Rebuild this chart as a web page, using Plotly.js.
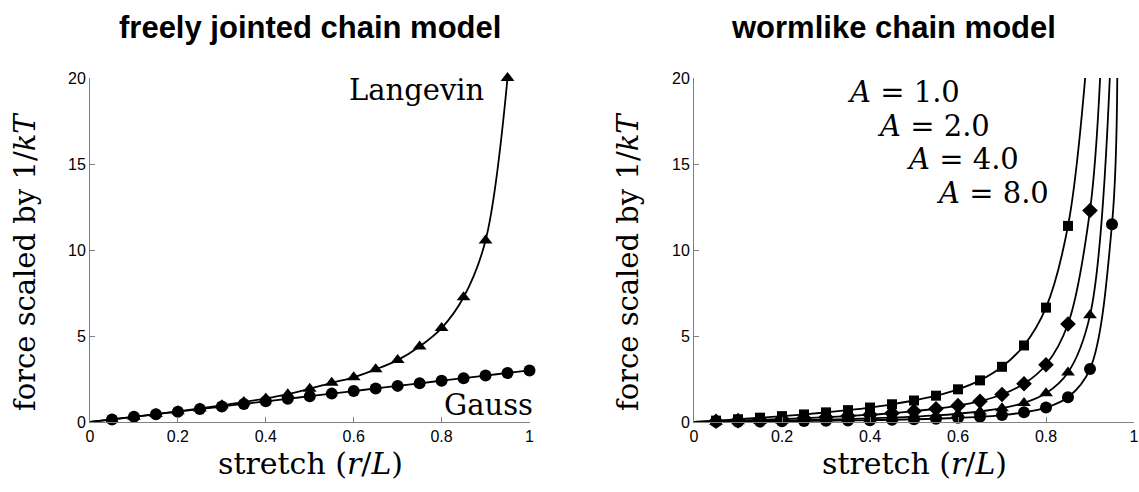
<!DOCTYPE html>
<html>
<head>
<meta charset="utf-8">
<script src="https://cdn.plot.ly/plotly-3.0.1.min.js"></script>
<style>html,body{margin:0;padding:0;background:#fff;}#chart{width:1139px;height:492px;}</style>
</head>
<body>
<div id="chart"></div>
<script>
// ---- data ----
const stretchJ = [0.05,0.10,0.15,0.20,0.25,0.30,0.35,0.40,0.45,0.50,0.55,0.60,0.65,0.70,0.75,0.80,0.85,0.90,0.95];
const langevin = [0.15,0.30,0.46,0.62,0.79,0.97,1.16,1.37,1.62,1.93,2.28,2.60,3.06,3.60,4.39,5.46,7.25,10.55,20.0];
const stretchG = [0.05,0.10,0.15,0.20,0.25,0.30,0.35,0.40,0.45,0.50,0.55,0.60,0.65,0.70,0.75,0.80,0.85,0.90,0.95,1.00];
const gauss    = [0.15,0.30,0.45,0.60,0.75,0.90,1.05,1.20,1.35,1.50,1.65,1.80,1.95,2.10,2.25,2.40,2.55,2.70,2.85,3.00];

const stretchW = [0.05,0.10,0.15,0.20,0.25,0.30,0.35,0.40,0.45,0.50,0.55,0.60,0.65,0.70,0.75,0.80,0.85,0.90,0.95];
const wlcA1 = [0.08,0.16,0.25,0.34,0.44,0.56,0.69,0.84,1.03,1.25,1.53,1.90,2.42,3.21,4.45,6.65,11.4];
const wlcA2 = [0.04,0.08,0.12,0.17,0.22,0.28,0.35,0.42,0.51,0.63,0.77,0.95,1.21,1.60,2.22,3.33,5.70,12.3];
const wlcA4 = [0.02,0.04,0.06,0.085,0.11,0.14,0.17,0.21,0.26,0.31,0.38,0.48,0.61,0.80,1.11,1.67,2.88,6.20];
const wlcA8 = [0.01,0.02,0.03,0.04,0.055,0.07,0.09,0.105,0.13,0.16,0.19,0.24,0.30,0.40,0.56,0.84,1.44,3.08,11.5];
// where each wormlike curve leaves the top of the axes (force = 20)
const wlcTopX = [0.889,0.923,0.945,0.962];
const wlcLabels = ['<i>A</i> = 1.0','<i>A</i> = 2.0','<i>A</i> = 4.0','<i>A</i> = 8.0'];
const wlcSymbols = ['square','diamond','triangle-up','circle'];

const xTicks = [0,0.2,0.4,0.6,0.8,1];
const xTickText = ['0','0.2','0.4','0.6','0.8','1'];
const yTicks = [0,5,10,15,20];
const yTickText = ['0','5','10','15','20'];

// ---- layout helpers ----
const W = 1139, H = 492;
const px = v => v / W;
const py = v => 1 - v / H;
const serif = 'DejaVu Serif';
const lineStyle = {color:'#000', width:1.8, shape:'spline', smoothing:1};
const markerSize = {'triangle-up':12,'circle':12,'square':10,'diamond':12};

const traces = [];
function addCurve(x, y, xa, ya, symbol, lineX, lineY){
  traces.push({x: lineX, y: lineY, xaxis: xa, yaxis: ya, mode:'lines', line: lineStyle, hoverinfo:'skip', showlegend:false});
  traces.push({x: x, y: y, xaxis: xa, yaxis: ya, mode:'markers', cliponaxis:false,
    marker:{symbol: symbol, size: markerSize[symbol], color:'#000'}, showlegend:false});
}
addCurve(stretchJ, langevin, 'x', 'y', 'triangle-up', [0].concat(stretchJ), [0].concat(langevin));
addCurve(stretchG, gauss, 'x', 'y', 'circle', [0].concat(stretchG), [0].concat(gauss));

const wlc = [wlcA1, wlcA2, wlcA4, wlcA8];
wlc.forEach((vals, i) => {
  const xs = stretchW.slice(0, vals.length);
  addCurve(xs, vals, 'x2', 'y2', wlcSymbols[i],
    [0].concat(xs, [wlcTopX[i]]), [0].concat(vals, [20]));
});

function xAxis(domain){
  return {domain: domain, range:[0,1], tickvals:xTicks, ticktext:xTickText, showline:true,
    linecolor:'#808080', linewidth:1, ticks:'inside', ticklen:5, tickcolor:'#808080',
    showgrid:false, zeroline:false, fixedrange:true,
    tickfont:{family:'Liberation Sans', size:16, color:'#000'}};
}
function yAxis(anchor){
  return {domain:[py(422), py(78)], range:[0,20], tickvals:yTicks, ticktext:yTickText, showline:true,
    linecolor:'#808080', linewidth:1, ticks:'inside', ticklen:5, tickcolor:'#808080',
    showgrid:false, zeroline:false, fixedrange:true, anchor: anchor,
    tickfont:{family:'Liberation Sans', size:16, color:'#000'}};
}

const ann = [];
function text(t, x, y, opts){
  ann.push(Object.assign({text:t, xref:'paper', yref:'paper', x:px(x), y:py(y), showarrow:false,
    xanchor:'center', yanchor:'middle', font:{family:serif, size:29, color:'#000'}}, opts||{}));
}
text('<b>freely jointed chain model</b>', 310, 27, {font:{family:'Liberation Sans', size:31, color:'#000'}});
text('<b>wormlike chain model</b>', 893, 27, {font:{family:'Liberation Sans', size:31, color:'#000'}});
text('force scaled by 1/<i>kT</i>', 25, 262, {textangle:-90});
text('force scaled by 1/<i>kT</i>', 628, 262, {textangle:-90});
text('stretch (<i>r</i>/<i>L</i>)', 310, 463, {font:{family:serif, size:30, color:'#000'}});
text('stretch (<i>r</i>/<i>L</i>)', 914, 463, {font:{family:serif, size:30, color:'#000'}});
text('Langevin', 416, 90);
text('Gauss', 488, 405);
wlcLabels.forEach((t, i) => text(t, 903 + 30*i, 92 + 33.5*i));

const layout = {
  width: W, height: H, margin:{l:0,r:0,t:0,b:0}, paper_bgcolor:'#fff', plot_bgcolor:'#fff',
  showlegend:false,
  xaxis: Object.assign(xAxis([px(90), px(529.5)]), {anchor:'y'}),
  yaxis: yAxis('x'),
  xaxis2: Object.assign(xAxis([px(694), px(1134)]), {anchor:'y2'}),
  yaxis2: yAxis('x2'),
  annotations: ann
};
Plotly.newPlot('chart', traces, layout, {displayModeBar:false, staticPlot:true});
</script>
</body>
</html>
